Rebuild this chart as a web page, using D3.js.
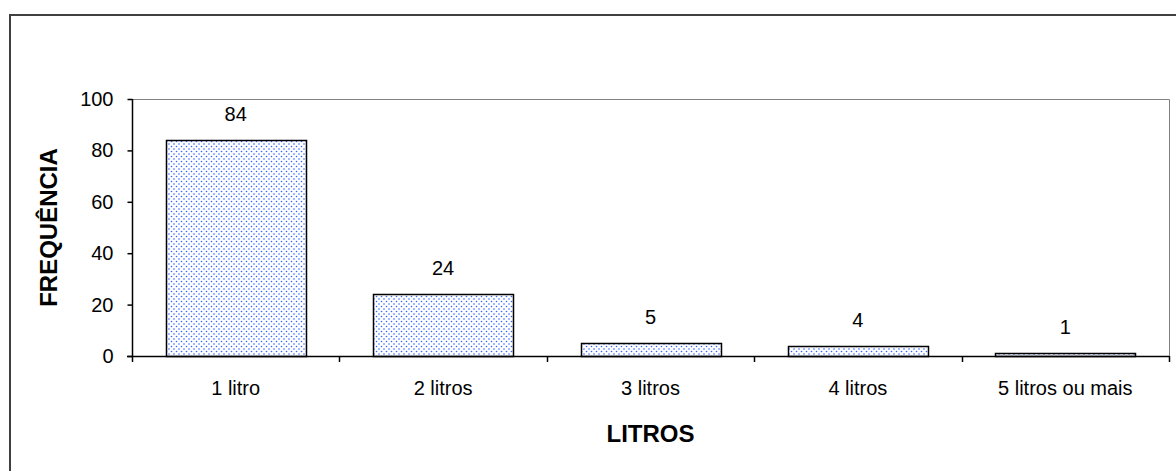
<!DOCTYPE html>
<html>
<head>
<meta charset="utf-8">
<script src="https://cdn.jsdelivr.net/npm/d3@7"></script>
<style>
  body { margin: 0; background: #fff; }
  text { font-family: "Liberation Sans", Arial, sans-serif; fill: #000; }
</style>
</head>
<body>
<div id="chart"></div>
<script>
var categories = ["1 litro", "2 litros", "3 litros", "4 litros", "5 litros ou mais"];
var values = [84, 24, 5, 4, 1];
var yTicks = [0, 20, 40, 60, 80, 100];

function init() {
    var w = 1176;
    var h = 471;
    var left = 132, right = 1169, top = 99, bottom = 356;

    var svg = d3.select("#chart")
        .append("svg")
        .attr("width", w)
        .attr("height", h);

    // dotted fill like the old spreadsheet pattern
    var pat = svg.append("defs").append("pattern")
        .attr("id", "dots")
        .attr("patternUnits", "userSpaceOnUse")
        .attr("width", 5)
        .attr("height", 5);
    pat.append("rect").attr("width", 5).attr("height", 5).attr("fill", "#fff");
    pat.append("circle").attr("cx", 1.5).attr("cy", 1.5).attr("r", 0.8).attr("fill", "#2f63ff");
    pat.append("circle").attr("cx", 4).attr("cy", 4).attr("r", 0.8).attr("fill", "#2f63ff");

    // outer frame
    svg.append("rect")
        .attr("x", 10).attr("y", 15)
        .attr("width", 1180).attr("height", 480)
        .attr("fill", "none")
        .attr("stroke", "#404040")
        .attr("stroke-width", 2);

    var x = d3.scaleBand()
        .domain(categories)
        .range([left, right])
        .paddingInner(0.325)
        .paddingOuter(0.1625);

    var y = d3.scaleLinear()
        .domain([0, 100])
        .range([bottom, top]);

    // plot frame top and right
    svg.append("path")
        .attr("d", "M" + left + "," + (top + 0.5) + "H" + (right + 0.5) + "V" + bottom)
        .attr("fill", "none")
        .attr("stroke", "#808080");

    svg.selectAll("rect.bar")
        .data(values)
        .enter()
        .append("rect")
        .attr("class", "bar")
        .attr("x", function(d, i) { return Math.round(x(categories[i])) + 0.5; })
        .attr("y", function(d) { return Math.round(y(d)) + 0.5; })
        .attr("width", x.bandwidth())
        .attr("height", function(d) { return bottom - Math.round(y(d)); })
        .attr("fill", "url(#dots)")
        .attr("stroke", "#000")
        .attr("stroke-width", 1.5);

    svg.selectAll("text.val")
        .data(values)
        .enter()
        .append("text")
        .attr("class", "val")
        .attr("x", function(d, i) { return x(categories[i]) + x.bandwidth() / 2; })
        .attr("y", function(d) { return y(d) - 19; })
        .attr("text-anchor", "middle")
        .style("font-size", "20px")
        .text(function(d) { return d; });

    var yAxis = d3.axisLeft(y).tickValues(yTicks).tickSize(5).tickPadding(14);
    var gy = svg.append("g")
        .attr("transform", "translate(" + (left + 0.5) + ",0)")
        .call(yAxis);
    gy.select(".domain").attr("stroke", "#000").attr("stroke-width", 1.5)
        .attr("d", "M0," + top + "V" + bottom);
    gy.selectAll(".tick line").attr("stroke", "#000").attr("stroke-width", 1.5);
    gy.selectAll("text").style("font-size", "20px").style("font-family", "Liberation Sans, Arial, sans-serif");

    // x axis: ticks at category boundaries
    var bounds = d3.range(categories.length + 1).map(function(i) { return left + i * (right - left) / categories.length; });
    var gx = svg.append("g");
    gx.append("line")
        .attr("x1", left - 5).attr("x2", right + 0.5)
        .attr("y1", bottom + 0.5).attr("y2", bottom + 0.5)
        .attr("stroke", "#000").attr("stroke-width", 1.5);
    gx.selectAll("line.tk")
        .data(bounds)
        .enter()
        .append("line")
        .attr("class", "tk")
        .attr("x1", function(d) { return Math.round(d) + 0.5; })
        .attr("x2", function(d) { return Math.round(d) + 0.5; })
        .attr("y1", bottom).attr("y2", bottom + 6)
        .attr("stroke", "#000").attr("stroke-width", 1.5);
    gx.selectAll("text")
        .data(categories)
        .enter()
        .append("text")
        .attr("x", function(d) { return x(d) + x.bandwidth() / 2; })
        .attr("y", bottom + 39)
        .attr("text-anchor", "middle")
        .style("font-size", "20px")
        .text(function(d) { return d; });

    svg.append("text")
        .attr("x", (left + right) / 2)
        .attr("y", 442)
        .attr("text-anchor", "middle")
        .style("font-size", "24px")
        .style("font-weight", "bold")
        .text("LITROS");

    svg.append("text")
        .attr("transform", "translate(57," + (top + bottom) / 2 + ") rotate(-90)")
        .attr("text-anchor", "middle")
        .style("font-size", "24px")
        .style("font-weight", "bold")
        .text("FREQUÊNCIA");
}

window.onload = init;
</script>
</body>
</html>
